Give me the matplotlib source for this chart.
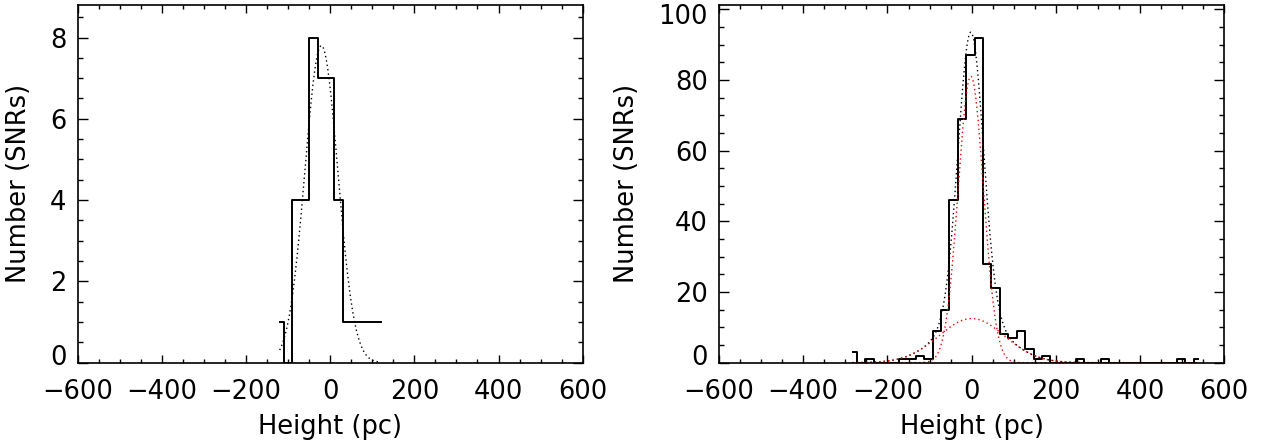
import numpy as np
import matplotlib
matplotlib.use("Agg")
import matplotlib.pyplot as plt
from matplotlib.ticker import MultipleLocator
from matplotlib.transforms import ScaledTranslation

# left panel: histogram of heights (bin centres every 20 pc)
left_start = -120
left_width = 20
left_counts = [1, 0, 4, 4, 8, 7, 7, 4, 1, 1, 1, 1, 1]
# gaussian fit: amplitude, centre, sigma
left_fit = (7.8, -21.0, 39.0)

# right panel: histogram of heights
right_start = -283
right_width = 20
right_counts = [3, 0, 1, 0, 0, 0, 1, 1, 2, 1,
                9, 15, 46, 69, 87, 92, 28, 21, 8, 7,
                9, 4, 1, 2, 0, 0, 0, 1, 0, 0,
                1, 0, 0, 0, 0, 0, 0, 0, 0, 1,
                0, 1]
# two-component fit: narrow + broad
right_narrow = (81.0, -2.0, 30.0)
right_broad = (12.5, 0.0, 78.0)

xlabel = "Height (pc)"
ylabel = "Number (SNRs)"


def gauss(x, p):
    a, c, s = p
    return a * np.exp(-(x - c) ** 2 / (2 * s ** 2))


plt.rcParams['font.family'] = ['DejaVu Sans']
fs = 18.5
dots = (0, (1, 2.2))

fig = plt.figure(figsize=(12.61, 4.43), dpi=100)
ax1 = fig.add_axes([0.0616, 0.1813, 0.4005, 0.8074])
ax2 = fig.add_axes([0.5702, 0.1813, 0.4007, 0.8074])


def style(ax, ymax, ymajor, yminor):
    ax.set_xlim(-600, 600)
    ax.set_ylim(0, ymax)
    ax.xaxis.set_major_locator(MultipleLocator(200))
    ax.xaxis.set_minor_locator(MultipleLocator(50))
    ax.yaxis.set_major_locator(MultipleLocator(ymajor))
    ax.yaxis.set_minor_locator(MultipleLocator(yminor))
    ax.tick_params(which='both', direction='in', top=True, right=True,
                   labelsize=fs, width=1.0, color='black')
    ax.tick_params(axis='x', which='major', length=6, pad=12)
    ax.tick_params(axis='x', which='minor', length=3)
    ax.tick_params(axis='y', which='major', length=7.5, pad=8)
    ax.tick_params(axis='y', which='minor', length=3.5)
    for sp in ax.spines.values():
        sp.set_linewidth(1.2)
    ax.set_xlabel(xlabel, fontsize=fs, labelpad=6)
    ax.set_ylabel(ylabel, fontsize=fs, labelpad=13)


# left
xl = left_start + left_width * np.arange(len(left_counts))
ax1.step(xl, left_counts, where='mid', color='black', lw=1.4)
xf = np.linspace(xl[0], xl[-1], 300)
ax1.plot(xf, gauss(xf, left_fit), color='black', lw=1.0, ls=dots)
style(ax1, 8.8, 2, 0.5)

# right
xr = right_start + right_width * np.arange(len(right_counts))
ax2.step(xr, right_counts, where='mid', color='black', lw=1.4)
xf2 = np.linspace(xr[0], xr[-1], 800)
ax2.plot(xf2, gauss(xf2, right_narrow) + gauss(xf2, right_broad),
         color='black', lw=1.0, ls=dots)
ax2.plot(xf2, gauss(xf2, right_narrow), color='red', lw=1.0, ls=dots)
ax2.plot(xf2, gauss(xf2, right_broad), color='red', lw=1.0, ls=dots)
style(ax2, 101.2, 20, 5)

# nudge the lowest / highest y labels like the original
fig.canvas.draw()
for ax, top in ((ax1, None), (ax2, 100)):
    for t in ax.yaxis.get_major_ticks():
        if abs(t.get_loc()) < 1e-9:
            t.label1.set_transform(t.label1.get_transform() +
                                   ScaledTranslation(0, 8 / 100, fig.dpi_scale_trans))
        if top is not None and abs(t.get_loc() - top) < 1e-9:
            t.label1.set_transform(t.label1.get_transform() +
                                   ScaledTranslation(0, -5 / 100, fig.dpi_scale_trans))

fig.savefig("out.png", dpi=100)
